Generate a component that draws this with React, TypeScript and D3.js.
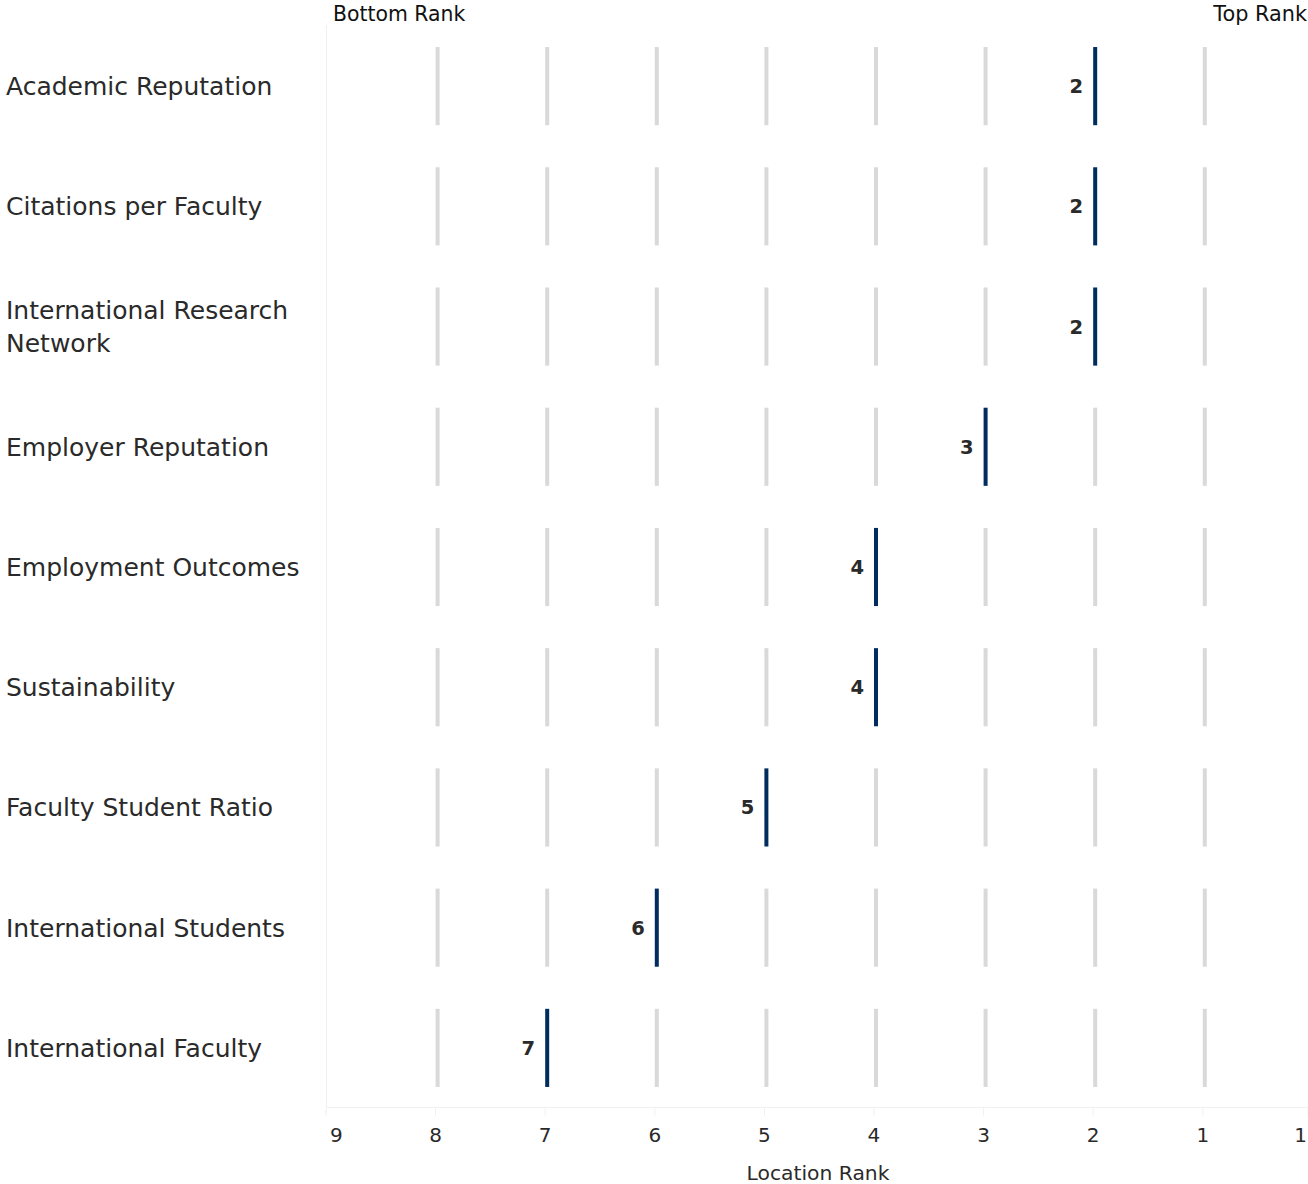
import React from "react";
import * as d3 from "d3";

const categories = [
  "Academic Reputation",
  "Citations per Faculty",
  "International Research Network",
  "Employer Reputation",
  "Employment Outcomes",
  "Sustainability",
  "Faculty Student Ratio",
  "International Students",
  "International Faculty",
];
const categoryLines = [
  ["Academic Reputation"],
  ["Citations per Faculty"],
  ["International Research", "Network"],
  ["Employer Reputation"],
  ["Employment Outcomes"],
  ["Sustainability"],
  ["Faculty Student Ratio"],
  ["International Students"],
  ["International Faculty"],
];
const ranks = [2, 2, 2, 3, 4, 4, 5, 6, 7];
const gridRanks = [8, 7, 6, 5, 4, 3, 2, 1];
const tickValues = [9, 8, 7, 6, 5, 4, 3, 2, 1, 0.04];
const tickLabels = ["9", "8", "7", "6", "5", "4", "3", "2", "1", "1"];

const W = 1308;
const H = 1184;
const plotLeft = 326;
const plotRight = 1308;
const plotTop = 26;
const plotBottom = 1108;
const axisY = 1107.5;
const FONT = "'DejaVu Sans', Verdana, sans-serif";
const NAVY = "#002c5f";
const GRAY = "#d9d9d9";
const TEXT = "#2a2a2a";

export default function App() {
  const x = d3.scaleLinear().domain([9, 0.04]).range([plotLeft, plotRight]);
  const y = d3.scaleBand<string>().domain(categories).range([plotTop, plotBottom]).padding(0);
  const bw = y.bandwidth();
  const barH = bw * 0.65;
  const barW = 4;

  return (
    <svg width={W} height={H} style={{ position: "absolute", left: 0, top: 0, background: "#fff" }}>
      <line x1={plotLeft + 0.5} x2={plotLeft + 0.5} y1={25} y2={axisY} stroke="#f0f0f0" strokeWidth={1} />
      <line x1={plotLeft} x2={plotRight} y1={axisY} y2={axisY} stroke="#f0f0f0" strokeWidth={1} />
      {categories.map((c, i) => {
        const cy = (y(c) as number) + bw / 2;
        const top = cy - barH / 2;
        const lines = categoryLines[i];
        const lh = 33;
        return (
          <g key={c}>
            {gridRanks
              .filter((r) => r !== ranks[i])
              .map((r) => (
                <rect key={r} x={x(r)} y={top} width={barW} height={barH} fill={GRAY} />
              ))}
            <rect x={x(ranks[i])} y={top} width={barW} height={barH} fill={NAVY} />
            <text
              x={x(ranks[i]) - 10}
              y={cy}
              dy="0.36em"
              textAnchor="end"
              fontFamily={FONT}
              fontWeight="bold"
              fontSize={19.5}
              fill={TEXT}
            >
              {ranks[i]}
            </text>
            {lines.map((ln, k) => (
              <text
                key={k}
                x={6}
                y={cy + (k - (lines.length - 1) / 2) * lh}
                dy="0.36em"
                fontFamily={FONT}
                fontSize={25}
                fill={TEXT}
              >
                {ln}
              </text>
            ))}
          </g>
        );
      })}
      {tickValues.map((t, i) => {
        const tx = x(t);
        let anchor: "middle" | "start" | "end" = "middle";
        let lx = tx;
        if (i === 0) {
          anchor = "start";
          lx = tx + 4;
        } else if (i === tickValues.length - 1) {
          anchor = "end";
          lx = tx - 1;
        }
        return (
          <g key={i}>
            <line x1={tx} x2={tx} y1={axisY + 1} y2={axisY + 8} stroke="#eeeeee" strokeWidth={1} />
            <text x={lx} y={1142} textAnchor={anchor} fontFamily={FONT} fontSize={20} fill={TEXT}>
              {tickLabels[i]}
            </text>
          </g>
        );
      })}
      <text x={818} y={1180} textAnchor="middle" fontFamily={FONT} fontSize={20.3} fill={TEXT}>
        Location Rank
      </text>
      <text x={333} y={21} fontFamily={FONT} fontSize={20.4} fill="#111">
        Bottom Rank
      </text>
      <text x={1307} y={21} textAnchor="end" fontFamily={FONT} fontSize={20.8} fill="#111">
        Top Rank
      </text>
    </svg>
  );
}
